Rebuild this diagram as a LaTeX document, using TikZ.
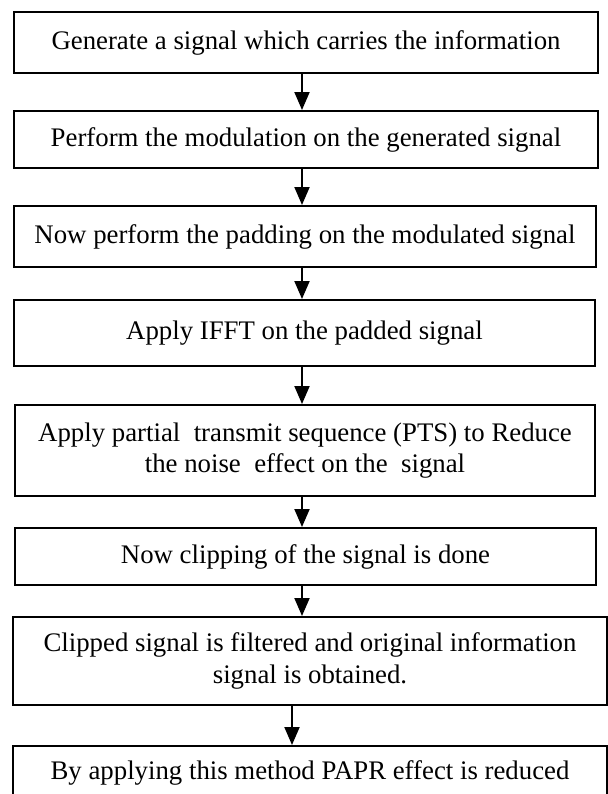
\documentclass[tikz,border=0pt]{standalone}
\usepackage{fontspec}
\setmainfont{Liberation Serif}
\usetikzlibrary{arrows.meta}

\begin{document}
\begin{tikzpicture}[
  x=0.5pt,
  y=-0.5pt,
  stepbox/.style={
    draw=black,
    line width=1pt,
    align=center,
    inner sep=0pt,
    font=\fontsize{13.4}{15.6}\selectfont
  },
  flow/.style={-{Triangle[length=9pt,width=7.5pt]}, draw=black, line width=1pt}
]

\path[use as bounding box] (0,0) rectangle (608,794);
\clip (0,0) rectangle (608,794);

% arrow lines
\coordinate (spine) at (302,0);
\coordinate (spinelow) at (292,0);

\node[stepbox, minimum width=292pt, minimum height=30.5pt] (generate) at (306,42.5)
  {Generate a signal which carries the information};
\node[stepbox, minimum width=292pt, minimum height=28.5pt] (modulate) at (306,139.5)
  {Perform the modulation on the generated signal};
\node[stepbox, minimum width=291pt, minimum height=30.5pt] (padding) at (305,236.5)
  {Now perform the padding on the modulated signal};
\node[stepbox, minimum width=290.5pt, minimum height=33pt] (ifft) at (304.5,333)
  {Apply IFFT on the padded signal};
\node[stepbox, minimum width=290pt, minimum height=45.5pt] (pts) at (305,450.5)
  {Apply partial~ transmit sequence (PTS) to Reduce\\the noise~ effect on the~ signal};
\node[stepbox, minimum width=290.5pt, minimum height=28.5pt] (clipping) at (305.5,556.5)
  {Now clipping of the signal is done};
\node[stepbox, minimum width=297pt, minimum height=44pt] (filtered) at (310,661)
  {Clipped signal is filtered and original information\\signal is obtained.};
\node[stepbox, minimum width=297pt, minimum height=27pt] (reduced) at (310,773)
  {By applying this method PAPR effect is reduced};

\draw[flow] (generate.south -| spine) -- (modulate.north -| spine);
\draw[flow] (modulate.south -| spine) -- (padding.north -| spine);
\draw[flow] (padding.south -| spine) -- (ifft.north -| spine);
\draw[flow] (ifft.south -| spine) -- (pts.north -| spine);
\draw[flow] (pts.south -| spine) -- (clipping.north -| spine);
\draw[flow] (clipping.south -| spine) -- (filtered.north -| spine);
\draw[flow] (filtered.south -| spinelow) -- (reduced.north -| spinelow);
\end{tikzpicture}
\end{document}
